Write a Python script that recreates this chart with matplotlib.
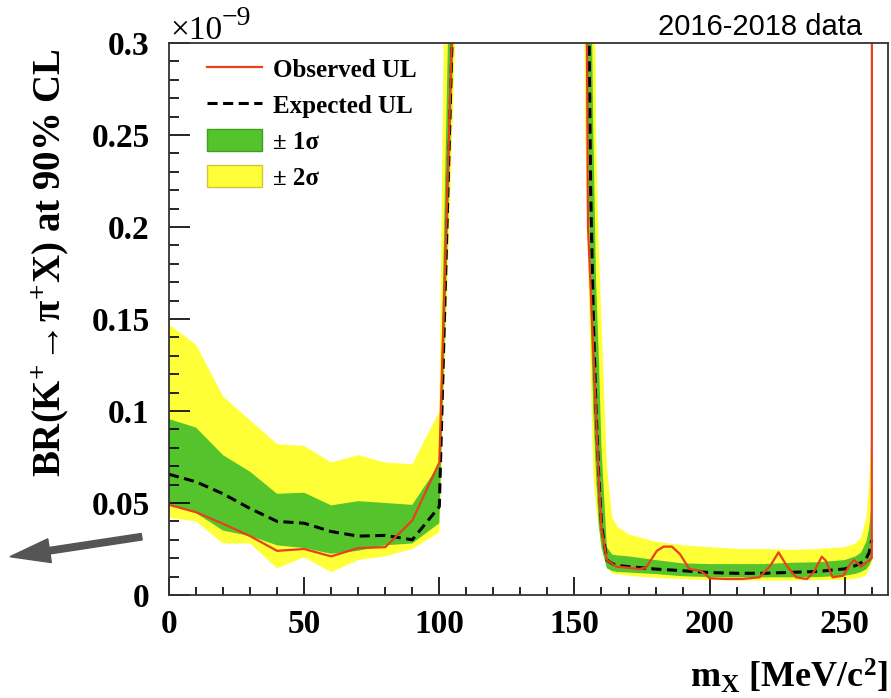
import matplotlib
matplotlib.use("Agg")
import matplotlib.pyplot as plt
from matplotlib.patches import Patch, FancyArrow
from matplotlib.lines import Line2D
from matplotlib.ticker import MultipleLocator, FuncFormatter

plt.rcParams['font.family'] = ['Liberation Serif', 'DejaVu Serif']
plt.rcParams['font.weight'] = 'bold'
plt.rcParams['mathtext.fontset'] = 'custom'
plt.rcParams['mathtext.rm'] = 'Liberation Serif:bold'
plt.rcParams['mathtext.it'] = 'Liberation Serif:bold'
plt.rcParams['mathtext.bf'] = 'Liberation Serif:bold'

# limits in units of 1e-9, mass in MeV/c^2
# region below the pi0 mass
mass_lo = [0, 10, 20, 30, 40, 50, 60, 70, 80, 90, 100, 110]
obs_lo = [0.049, 0.045, 0.0387, 0.032, 0.024, 0.025, 0.021, 0.0255, 0.026, 0.0405, 0.072, 0.57]
exp_lo = [0.0656, 0.0615, 0.055, 0.047, 0.040, 0.039, 0.0345, 0.032, 0.0324, 0.030, 0.048, 0.584]
s1_up_lo = [0.0956, 0.091, 0.076, 0.067, 0.055, 0.0556, 0.0487, 0.051, 0.050, 0.049, 0.071, 0.79]
s1_dn_lo = [0.0496, 0.0445, 0.035, 0.032, 0.027, 0.0255, 0.0224, 0.024, 0.027, 0.028, 0.039, 0.54]
s2_up_lo = [0.147, 0.136, 0.108, 0.095, 0.082, 0.081, 0.072, 0.076, 0.072, 0.071, 0.0996, 1.35]
s2_dn_lo = [0.042, 0.040, 0.028, 0.028, 0.0145, 0.0205, 0.0124, 0.019, 0.021, 0.025, 0.034, 0.485]

# region above the pi0 mass
mass_hi = [150, 154, 156, 157, 158, 159, 160, 162, 164, 166, 170, 175, 180, 190,
           200, 210, 220, 230, 240, 250, 254, 256, 258, 259, 260]
exp_hi = [1.8, 0.5, 0.22, 0.15, 0.10, 0.065, 0.038, 0.019, 0.017, 0.016, 0.0154, 0.0148, 0.0141, 0.0132,
          0.0122, 0.0118, 0.0118, 0.0123, 0.0128, 0.0142, 0.016, 0.0175, 0.020, 0.023, 0.030]
s1_up_hi = [2.0, 0.9, 0.36, 0.25, 0.17, 0.13, 0.08, 0.026, 0.022, 0.0215, 0.021, 0.020, 0.019, 0.0172,
            0.0168, 0.0168, 0.0168, 0.0175, 0.0178, 0.019, 0.021, 0.023, 0.029, 0.036, 0.05]
s1_dn_hi = [1.2, 0.36, 0.15, 0.10, 0.065, 0.038, 0.026, 0.0145, 0.013, 0.0125, 0.0122, 0.0118, 0.0114, 0.0102,
            0.0097, 0.0096, 0.0096, 0.0096, 0.0097, 0.0105, 0.0115, 0.0125, 0.014, 0.016, 0.019]
s2_up_hi = [3.0, 1.5, 0.7, 0.45, 0.25, 0.19, 0.15, 0.07, 0.042, 0.037, 0.033, 0.031, 0.029, 0.027,
            0.026, 0.025, 0.025, 0.0245, 0.025, 0.026, 0.028, 0.031, 0.042, 0.060, 0.09]
s2_dn_hi = [1.0, 0.25, 0.12, 0.065, 0.048, 0.037, 0.025, 0.015, 0.0118, 0.0112, 0.0105, 0.0098, 0.0093, 0.0086,
            0.0082, 0.0078, 0.0078, 0.0078, 0.0080, 0.0082, 0.0088, 0.0095, 0.011, 0.014, 0.017]

mass_obs_hi = [150, 155, 157.5, 159, 160, 162, 165.5, 169, 174, 176.5, 180.5, 183, 186, 189, 192.5,
               196.5, 199, 200, 206, 212, 218.5, 222.5, 225.5, 228.5, 232, 236, 238.5, 241.5, 243,
               245.5, 249.5, 252, 253.5, 256, 260, 260.2]
obs_hi = [1.5, 0.2, 0.115, 0.062, 0.036, 0.019, 0.0154, 0.015, 0.0141, 0.015, 0.024, 0.0263, 0.0263,
          0.0223, 0.0141, 0.0132, 0.0105, 0.0091, 0.0087, 0.0087, 0.0096, 0.016, 0.0232, 0.016, 0.0096,
          0.0087, 0.0123, 0.0208, 0.0187, 0.0096, 0.0105, 0.0168, 0.019, 0.0154, 0.020, 1.5]

green = '#55c42c'
yellow = '#ffff38'
red = '#e8401c'

fig = plt.figure(figsize=(8.91, 6.98), dpi=100)
ax = fig.add_axes([169 / 891, 1 - 595 / 698, (888 - 169) / 891, (595 - 43) / 698])

for m, lo2, hi2, lo1, hi1 in [(mass_lo, s2_dn_lo, s2_up_lo, s1_dn_lo, s1_up_lo),
                              (mass_hi, s2_dn_hi, s2_up_hi, s1_dn_hi, s1_up_hi)]:
    ax.fill_between(m, lo2, hi2, color=yellow, lw=0)
    ax.fill_between(m, lo1, hi1, color=green, lw=0)

dash = (0, (3.3, 1.8))
ax.plot(mass_lo, exp_lo, color='black', lw=2.2, ls=dash)
ax.plot(mass_hi, exp_hi, color='black', lw=2.2, ls=dash)
ax.plot(mass_lo, obs_lo, color=red, lw=1.6)
ax.plot(mass_obs_hi, obs_hi, color=red, lw=1.6)

ax.set_xlim(0, 266)
ax.set_ylim(0, 0.3)

ax.xaxis.set_major_locator(MultipleLocator(50))
ax.xaxis.set_minor_locator(MultipleLocator(10))
ax.yaxis.set_major_locator(MultipleLocator(0.05))
ax.yaxis.set_minor_locator(MultipleLocator(0.01))
ax.yaxis.set_major_formatter(FuncFormatter(lambda v, p: f"{v:g}"))
ax.tick_params(axis='both', which='both', direction='in', top=False, right=False, width=1.2)
ax.tick_params(axis='y', which='major', length=15, pad=14, labelsize=24)
ax.tick_params(axis='y', which='minor', length=7)
ax.tick_params(axis='x', which='major', length=13, pad=10, labelsize=24)
ax.tick_params(axis='x', which='minor', length=6)
for s in ax.spines.values():
    s.set_linewidth(1.3)
    s.set_color('#333333')

# axis titles
fig.text(888 / 891, 1 - 688 / 698, r"m$_{\rm X}$ [MeV/c$^{2}$]", ha='right', va='baseline', fontsize=26)
fig.text(50 / 891, 1 - 263 / 698, r"BR(K$^{+}\!\rightarrow\!\pi^{+}$X) at 90% CL",
         rotation=90, ha='center', va='center', fontsize=28)

# exponent of the y axis
fig.text(170 / 891, 1 - 39 / 698, "\u00d710", ha='left', va='baseline', fontsize=24, fontweight='normal')
fig.text(222 / 891, 1 - 25 / 698, "\u22129", ha='left', va='baseline', fontsize=20, fontweight='normal')

fig.text(862 / 891, 1 - 35 / 698, "2016-2018 data", ha='right', va='baseline',
         fontsize=21, fontweight='normal', family='Liberation Sans')

handles = [Line2D([], [], color=red, lw=1.6),
           Line2D([], [], color='black', lw=2.2, ls=dash),
           Patch(facecolor=green, edgecolor='#3e9e25'),
           Patch(facecolor=yellow, edgecolor='#cfc43a')]
labels = ["Observed UL", "Expected UL", "\u00b1 1\u03c3", "\u00b1 2\u03c3"]
ax.legend(handles, labels, loc='upper left', bbox_to_anchor=(0.053, 0.975), frameon=False,
          fontsize=18, handlelength=2.2, handleheight=1.0, labelspacing=0.45,
          handletextpad=0.45, borderpad=0, borderaxespad=0)

arrow = FancyArrow(1.417, 1.613, -1.317, -0.20, width=0.065, head_width=0.24, head_length=0.40,
                   length_includes_head=True, color='#555555', transform=fig.dpi_scale_trans)
fig.add_artist(arrow)

fig.savefig('out.png', dpi=100)
